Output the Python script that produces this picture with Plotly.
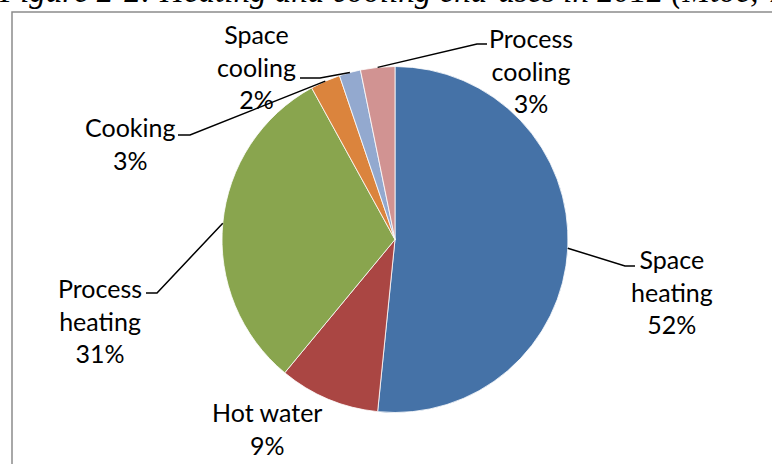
import math
import plotly.graph_objects as go

# heating and cooling end-uses, share (%)
labels = ["Space heating", "Hot water", "Process heating", "Cooking", "Space cooling", "Process cooling"]
values = [51.6, 9.4, 31.0, 2.8, 2.0, 3.2]
colors = ["#4572A7", "#AA4643", "#89A54E", "#DB843D", "#93A9CF", "#D19392"]
label_text = ["Space<br>heating", "Hot water", "Process<br>heating", "Cooking", "Space<br>cooling", "Process<br>cooling"]

W, H = 772, 464
cx, cy, r = 395, 239.5, 173

# label centre and leader line elbow/end (pixels); None = no leader
label_pos = [(672, 291), (267, 428), (100, 320), (130, 144), (256, 66), (531, 71)]
leader = [((625, 266), (635, 266)), None, ((157, 293), (146, 293)),
          ((190, 135), (178, 135)), ((320, 78), (300, 78)), ((477, 44), (487, 44))]


def px(x, y):
    return x / W, 1 - y / H


fig = go.Figure(go.Pie(
    labels=labels,
    values=values,
    sort=False,
    direction="clockwise",
    rotation=0,
    textinfo="none",
    hoverinfo="label+percent",
    marker=dict(colors=colors, line=dict(color="white", width=0.8)),
    domain=dict(x=[(cx - r) / W, (cx + r) / W], y=[1 - (cy + r) / H, 1 - (cy - r) / H]),
    showlegend=False,
))

total = sum(values)
annotations = []
shapes = []
cum = 0
for i, v in enumerate(values):
    mid = (cum + v / 2) / total * 2 * math.pi
    cum += v
    pct = round(v / total * 100)
    lx, ly = label_pos[i]
    x, y = px(lx, ly)
    annotations.append(dict(
        x=x, y=y, xref="paper", yref="paper", xanchor="center", yanchor="middle",
        text=f"{label_text[i]}<br>{pct}%", showarrow=False, align="center",
        font=dict(family="Lato", size=25, color="black"),
    ))
    if leader[i]:
        sx, sy = cx + r * math.sin(mid), cy - r * math.cos(mid)
        (ex, ey), (tx, ty) = leader[i]
        p = [px(sx, sy), px(ex, ey), px(tx, ty)]
        path = "M {} {} L {} {} L {} {}".format(p[0][0], p[0][1], p[1][0], p[1][1], p[2][0], p[2][1])
        shapes.append(dict(type="path", xref="paper", yref="paper", path=path,
                           line=dict(color="black", width=1.5)))

# chart frame (runs past the right and bottom edges)
shapes.append(dict(type="rect", xref="paper", yref="paper",
                   x0=12 / W, x1=1.2, y0=-0.2, y1=1 - 12 / H,
                   line=dict(color="#8c8c8c", width=1.5), layer="below"))

# caption, cut off at the top
annotations.append(dict(
    x=-3 / W, y=1 - 12 / H, xref="paper", yref="paper", xanchor="left", yanchor="bottom",
    text="<i>Figure 2-2: Heating and cooling end-uses in 2012 (Mtoe, %)</i>",
    showarrow=False, font=dict(family="Liberation Serif", size=33, color="black"),
))

fig.update_layout(
    width=W, height=H,
    margin=dict(l=0, r=0, t=0, b=0),
    paper_bgcolor="white",
    plot_bgcolor="white",
    annotations=annotations,
    shapes=shapes,
)

fig.write_html("out.html", config={"displayModeBar": False},
               post_script="document.body.style.margin = '0';")
